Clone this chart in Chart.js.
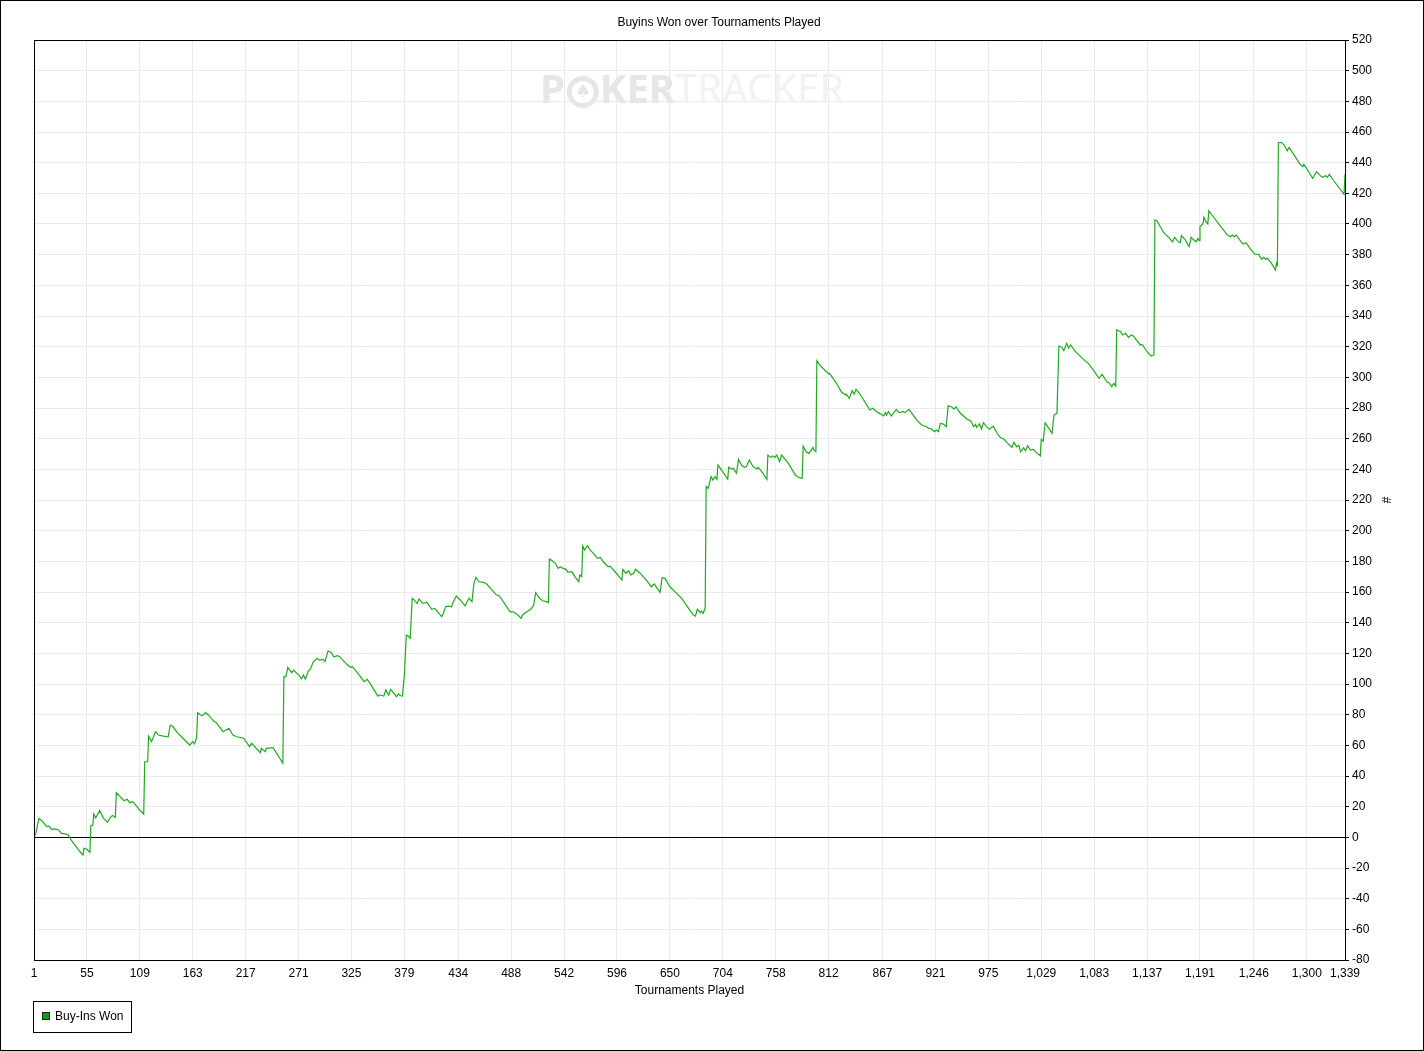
<!DOCTYPE html>
<html lang="en">
<head>
<meta charset="UTF-8" />
<title>Buyins Won over Tournaments Played</title>
<script src="https://cdn.jsdelivr.net/npm/chart.js"></script>
<style>
  html, body { margin: 0; padding: 0; background: #fff; }
  #wrap { position: relative; width: 1424px; height: 1051px; }
</style>
</head>
<body>
<div id="wrap"><canvas id="buyinChart"></canvas></div>
<script>
// turning points of the cumulative curve
const tournaments = [
  1, 3, 6, 9, 14, 16, 19, 22, 26, 29, 34, 36, 39, 48, 51, 52, 55, 58, 59, 61, 62, 64, 68, 72, 76, 79, 81, 84,
  85, 89, 93, 96, 99, 102, 109, 113, 114, 117, 118, 121, 125, 128, 133, 138, 140, 143, 147, 153, 160, 163, 165, 167,
  168, 171, 173, 176, 179, 184, 187, 194, 200, 204, 208, 215, 221, 223, 232, 233, 237, 238, 245, 255,
  256, 258, 260, 264, 266, 272, 274, 276, 278, 281, 283, 286, 290, 292, 296, 298, 301, 304, 307, 311, 313, 320,
  324, 326, 331, 338, 341, 344, 352, 354, 358, 360, 363, 365, 371, 373, 375, 377, 379, 381, 383, 385,
  387, 389, 392, 394, 398, 402, 407, 410, 412, 417, 419, 421, 424, 427, 429, 432, 436, 441, 443, 445, 448,
  450, 452, 455, 460, 463, 473, 476, 487, 490, 494, 495, 498, 500, 504, 508, 511, 513, 517, 520, 524, 526,
  527, 529, 533, 536, 538, 541, 544, 546, 550, 553, 557, 558, 560, 561, 563, 566, 568, 572, 576, 579, 582,
  587, 589, 594, 601, 602, 605, 608, 610, 613, 615, 619, 626, 631, 634, 637, 640, 642, 645, 650, 655, 662,
  669, 674, 676, 678, 681, 682, 684, 686, 687, 689, 692, 694, 696, 698, 699, 704, 709, 710, 713, 715, 716,
  718, 720, 723, 726, 728, 731, 735, 739, 740, 743, 749, 750, 753, 755, 757, 759, 762, 764, 771, 778, 781,
  785, 786, 789, 792, 796, 797, 799, 800, 803, 812, 813, 820, 825, 829, 830, 833, 836, 838, 840, 844, 854,
  857, 861, 864, 868, 870, 871, 873, 876, 878, 881, 884, 888, 890, 894, 902, 907, 912, 914, 917, 920, 922,
  924, 926, 929, 932, 934, 938, 940, 942, 946, 953, 957, 960, 962, 963, 966, 968, 970, 973, 976, 980, 984,
  987, 991, 994, 999, 1001, 1004, 1006, 1008, 1011, 1013, 1015, 1018, 1021, 1023, 1028, 1029, 1031, 1033,
  1036, 1040, 1042, 1045, 1047, 1050, 1052, 1055, 1057, 1059, 1064, 1072, 1077, 1082, 1088, 1091, 1096,
  1098, 1101, 1103, 1105, 1106, 1110, 1112, 1115, 1118, 1121, 1123, 1130, 1132, 1137, 1141, 1144, 1145,
  1147, 1154, 1159, 1163, 1165, 1169, 1171, 1172, 1176, 1180, 1182, 1184, 1187, 1189, 1190, 1191, 1194,
  1195, 1197, 1199, 1200, 1205, 1211, 1219, 1222, 1224, 1226, 1228, 1233, 1235, 1238, 1242, 1247, 1251,
  1254, 1256, 1258, 1260, 1264, 1268, 1269, 1270, 1271, 1274, 1277, 1280, 1282, 1286, 1293, 1296, 1297,
  1302, 1306, 1310, 1313, 1316, 1319, 1321, 1323, 1327, 1338, 1339
];
const buyIns = [
  0, 3, 12.4, 10.8, 7, 7.4, 5.2, 5.5, 4.8, 2.6, 2.1, 1.5, -1.8, -9.4, -11.6, -7.2, -7.8, -9.8, 7.6, 8, 15.2, 12.6, 17.4, 12.4, 9.8, 13, 14.3, 13,
  29.1, 26.5, 23.9, 24.8, 22.6, 23.3, 17.8, 15.2, 49.3, 49.3, 66, 62.4, 68.9, 66.7, 66, 65.6, 73.2, 72.1, 68.5, 64.6, 60.2, 62.4, 61, 65.2,
  81.3, 79.8, 79.4, 81.3, 79.8, 76, 74.8, 68.9, 71.1, 66.7, 65.6, 64.6, 59.1, 61.3, 55.2, 58, 55.9, 58, 58.5, 48.3,
  104.7, 104.7, 110.8, 107.4, 109.1, 105.2, 103.4, 105.8, 103.2, 108.7, 109.5, 114.5, 116.7, 115.6, 116.1, 114.5, 121.5, 120.7, 117.8, 118.5, 117.8, 113,
  110.9, 111.3, 107.4, 101.5, 103, 100.4, 92.1, 92.8, 92.1, 96.1, 92.8, 96.5, 91.7, 93.5, 92.3, 92.1, 105.8, 131.9, 131.3, 129.8,
  155.9, 154.8, 152.6, 155.4, 152.6, 153.2, 148.7, 149.3, 147.8, 143.9, 146.5, 150.4, 150.8, 150.4, 153.7, 157.4, 154.8, 150.9, 153.7, 155.9, 153.7,
  165.7, 169.6, 166.7, 166.3, 165.2, 158, 157.4, 147.1, 147.1, 145.4, 145, 142.8, 145.4, 147.1, 148.7, 151.5, 159.5, 155.9, 154.3, 153.7, 153,
  181.5, 180.8, 178.7, 175.4, 176.5, 175.4, 174.8, 172.8, 173.2, 170, 166.7, 171.1, 170, 190, 187.4, 190.2, 187.8, 185.2, 182, 182.6, 179.7,
  176.5, 176.9, 173.2, 167.8, 174.8, 172.2, 173.9, 171.1, 172.2, 174.8, 172.6, 167.8, 163.4, 165.2, 162.4, 159.8, 169.3, 168.9, 163.4, 160.2, 155.9,
  149.3, 145, 144.3, 148.7, 146.5, 147.6, 146.1, 149.7, 228.7, 227.6, 235.2, 233, 235.2, 233.5, 242.8, 238.4, 233.5, 241.3, 240.2, 240.7, 239.1,
  237.4, 246.5, 242.8, 241.3, 241.7, 246.1, 241.7, 240.2, 241.3, 239.1, 233.5, 249.3, 247.8, 248.7, 247.8, 249.3, 245, 249.3, 243.9, 236.3, 234.8,
  234.1, 255.2, 251.5, 250.4, 254.3, 252.6, 251.5, 310.8, 308, 302.2, 302.6, 296.1, 290.6, 288.5, 289, 286.3, 291.3, 289.1, 292.2, 289.1, 278.7,
  279.8, 277.6, 276.5, 274.8, 277, 275.4, 277.6, 274.8, 276.5, 279.1, 277, 277.6, 277, 279.1, 272.1, 268.9, 267.8, 266.7, 266.3, 264.5, 265.6,
  264.5, 270, 269.6, 267.8, 281.5, 280.5, 279.3, 280.8, 276.9, 272.8, 271.5, 267.8, 269.3, 267.4, 269.6, 266.3, 270.4, 268, 266.1, 268.2, 263.5,
  260.9, 259.6, 257.4, 254.3, 257.6, 254.7, 255.7, 251.5, 254.1, 252.2, 255.4, 252.6, 253, 251.5, 248.7, 259.6, 258.3, 270.4,
  267.4, 263.5, 275.4, 276.5, 320.4, 319.6, 317.4, 322.2, 319, 321.1, 316.7, 311.7, 309.1, 304.8, 299.4, 302, 297.1,
  296.5, 293.9, 296.1, 294.3, 330.9, 329.8, 327.6, 328.7, 326.1, 327.6, 327, 321.1, 321.5, 316.7, 313.9, 314.6, 402.6,
  402.1, 394.3, 391.3, 388.4, 391.3, 388.4, 387.8, 392.4, 389.6, 385.2, 391.3, 390, 388.4, 390.6, 389.1, 398.3, 400,
  404.4, 401.5, 400, 408.5, 404.4, 399.3, 392.8, 391.7, 392.8, 391.7, 392.8, 388.4, 386.9, 387.8, 384.1, 380.4, 380.2,
  377, 378.3, 377, 377.6, 374.3, 370, 374.3, 373.3, 453, 453.3, 451.5, 447.8, 450, 446.1, 439.1, 437.4, 438.9,
  434.1, 429.8, 434.1, 432, 430.4, 431.5, 430.4, 432.4, 428.7, 419.4, 432.4
];
const xTickValues = [1, 55, 109, 163, 217, 271, 325, 379, 434, 488, 542, 596, 650, 704, 758, 812, 867, 921, 975, 1029, 1083, 1137, 1191, 1246, 1300, 1339];
const seriesLabel = 'Buy-Ins Won';
const chartTitle = 'Buyins Won over Tournaments Played';

const points = tournaments.map((t, i) => ({ x: t, y: buyIns[i] }));

Chart.defaults.font.family = '"Liberation Sans", Arial, sans-serif';
Chart.defaults.font.size = 12;
Chart.defaults.color = '#000';

// frame, title, watermark and boxed legend like the PokerTracker export
const decor = {
  id: 'decor',
  beforeDatasetsDraw(chart) {
    const ctx = chart.ctx;
    ctx.save();
    ctx.textBaseline = 'middle';
    ctx.font = 'bold 40px "Noto Sans", "Open Sans", sans-serif';
    let x = 540;
    const y = 92;
    ctx.fillStyle = '#e6e6e6';
    ctx.fillText('P', x, y);
    x += ctx.measureText('P').width + 2;
    // chip in place of the O
    const cx = x + 16, r = 16;
    ctx.beginPath(); ctx.arc(cx, y, r, 0, Math.PI * 2); ctx.fill();
    ctx.fillStyle = '#fff';
    ctx.beginPath(); ctx.arc(cx, y, r - 5, 0, Math.PI * 2); ctx.fill();
    ctx.fillStyle = '#e6e6e6';
    ctx.font = 'bold 18px "DejaVu Sans", sans-serif';
    ctx.textAlign = 'center';
    ctx.fillText('\u2660', cx, y);
    ctx.textAlign = 'left';
    x = cx + r + 1;
    ctx.font = 'bold 40px "Noto Sans", "Open Sans", sans-serif';
    ctx.fillText('KER', x, y);
    x += ctx.measureText('KER').width;
    ctx.fillStyle = '#f2f2f2';
    ctx.font = '40px "Noto Sans", "Open Sans", sans-serif';
    ctx.fillText('TRACKER', x, y);
    ctx.restore();
  },
  afterDraw(chart) {
    const ctx = chart.ctx;
    const a = chart.chartArea;
    ctx.save();
    ctx.strokeStyle = '#000';
    ctx.lineWidth = 1;
    ctx.strokeRect(Math.round(a.left) + 0.5, Math.round(a.top) + 0.5,
      Math.round(a.right - a.left), Math.round(a.bottom - a.top));
    ctx.strokeRect(0.5, 0.5, chart.width - 1, chart.height - 1);

    ctx.fillStyle = '#000';
    ctx.font = '12px "Liberation Sans", Arial, sans-serif';
    ctx.textAlign = 'center';
    ctx.textBaseline = 'middle';
    ctx.fillText(chartTitle, 719, 23);

    // legend box
    const ds = chart.data.datasets[0];
    ctx.strokeRect(33.5, 1001.5, 98, 31);
    ctx.fillStyle = '#119911';
    ctx.fillRect(42, 1012, 8, 8);
    ctx.strokeStyle = '#222';
    ctx.strokeRect(42.5, 1012.5, 7, 7);
    ctx.fillStyle = '#000';
    ctx.textAlign = 'left';
    ctx.fillText(ds.label, 55, 1017);
    ctx.restore();
  }
};

new Chart(document.getElementById('buyinChart'), {
  type: 'line',
  data: {
    datasets: [{
      label: seriesLabel,
      data: points,
      borderColor: '#22a922',
      borderWidth: 1.2,
      pointRadius: 0,
      tension: 0,
      fill: false
    }]
  },
  options: {
    responsive: true,
    maintainAspectRatio: false,
    animation: false,
    layout: { padding: { left: 34, top: 40, right: 0, bottom: 50 } },
    plugins: {
      legend: { display: false },
      title: { display: false },
      tooltip: { enabled: false }
    },
    scales: {
      x: {
        type: 'linear',
        min: 1,
        max: 1339,
        afterBuildTicks: (scale) => { scale.ticks = xTickValues.map(v => ({ value: v })); },
        afterFit: (scale) => { scale.height = 41; },
        grid: { color: '#ebebeb', drawTicks: false },
        border: { display: false },
        ticks: {
          autoSkip: false,
          maxRotation: 0,
          padding: 6,
          callback: (v) => Number(v).toLocaleString('en-US')
        },
        title: { display: true, text: 'Tournaments Played', padding: { top: 0, bottom: 3 } }
      },
      y: {
        position: 'right',
        min: -80,
        max: 520,
        afterFit: (scale) => { scale.width = 79; },
        grid: {
          color: (c) => (c.tick && c.tick.value === 0 ? '#000' : '#ebebeb'),
          tickColor: '#000',
          tickLength: 4
        },
        border: { display: false },
        ticks: { stepSize: 20, padding: 3, autoSkip: false },
        title: { display: true, text: '#', padding: { top: 31, bottom: 0 } }
      }
    }
  },
  plugins: [decor]
});
</script>
</body>
</html>
